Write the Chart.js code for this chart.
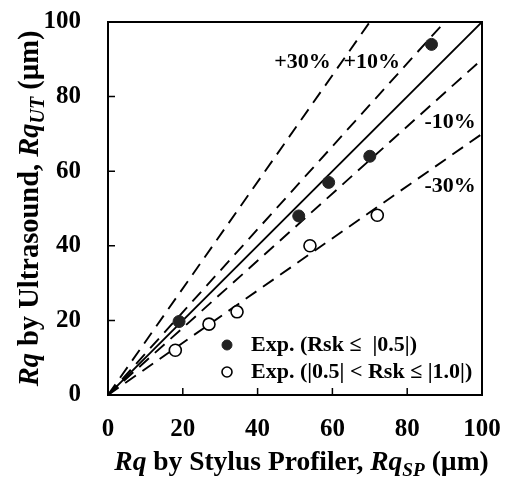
<!DOCTYPE html>
<html>
<head>
<meta charset="utf-8">
<script src="https://cdn.jsdelivr.net/npm/chart.js@4/dist/chart.umd.min.js"></script>
<style>
  body { margin: 0; background: #fff; }
</style>
</head>
<body>
<canvas id="rqChart" width="508" height="477"></canvas>
<script>
const filledX = [19, 51, 59, 70, 86.5];
const filledY = [19.7, 48, 57, 64, 94];
const openX = [18, 27, 34.5, 54, 72];
const openY = [12, 19, 22.3, 40, 48.2];

const legendLabels = ["Exp. (Rsk \u2264  |0.5|)", "Exp. (|0.5| < Rsk \u2264 |1.0|)"];

// +/- error bands, end points in data units
const bandNames = ["+30%", "+10%", "1:1", "-10%", "-30%"];
const bandEndX = [70, 90, 100, 100, 100];
const bandEndY = [100, 100, 100, 90, 70];
// where the band labels sit (data units)
const bandLabelX = [52, 70.5, null, 91.5, 91.5];
const bandLabelY = [89.2, 89.2, null, 73, 56];

const axisTicks = [0, 20, 40, 60, 80, 100];

const serif = "'Liberation Serif', 'Times New Roman', serif";

function zip(xs, ys) {
    return xs.map((x, i) => ({ x: x, y: ys[i] }));
}

const datasets = [
    {
        label: legendLabels[0],
        data: zip(filledX, filledY),
        showLine: false,
        pointRadius: 6,
        pointBackgroundColor: "#222",
        pointBorderColor: "#222",
        pointBorderWidth: 1,
    },
    {
        label: legendLabels[1],
        data: zip(openX, openY),
        showLine: false,
        pointRadius: 6,
        pointBackgroundColor: "#fff",
        pointBorderColor: "#000",
        pointBorderWidth: 1.6,
    },
];
bandNames.forEach(function (name, i) {
    datasets.push({
        label: name,
        data: [{ x: 0, y: 0 }, { x: bandEndX[i], y: bandEndY[i] }],
        showLine: true,
        borderColor: "#000",
        borderWidth: 1.9,
        borderDash: name === "1:1" ? [] : [13, 8],
        pointRadius: 0,
        fill: false,
    });
});

function drawRich(ctx, parts, size, x, y) {
    // parts: [text, italic, sub]
    const fontOf = (p) => (p[1] ? "italic " : "") + "bold " + (p[2] ? size * 0.7 : size) + "px " + serif;
    let total = 0;
    parts.forEach(function (p) { ctx.font = fontOf(p); total += ctx.measureText(p[0]).width; });
    let cx = x - total / 2;
    parts.forEach(function (p) {
        ctx.font = fontOf(p);
        ctx.fillText(p[0], cx, p[2] ? y + size * 0.22 : y);
        cx += ctx.measureText(p[0]).width;
    });
}

const decorations = {
    id: "decorations",
    afterDraw: function (chart) {
        const ctx = chart.ctx;
        const a = chart.chartArea;
        const xs = chart.scales.x, ys = chart.scales.y;
        ctx.save();
        ctx.fillStyle = "#000";
        ctx.strokeStyle = "#000";

        // frame
        ctx.lineWidth = 2;
        ctx.strokeRect(a.left, a.top, a.right - a.left, a.bottom - a.top);

        // inward ticks
        ctx.lineWidth = 1.5;
        ctx.beginPath();
        axisTicks.forEach(function (v) {
            const px = xs.getPixelForValue(v);
            ctx.moveTo(px, a.bottom);
            ctx.lineTo(px, a.bottom - 7);
            const py = ys.getPixelForValue(v);
            ctx.moveTo(a.left, py);
            ctx.lineTo(a.left + 7, py);
        });
        ctx.stroke();

        // band labels
        ctx.font = "bold 22px " + serif;
        ctx.textAlign = "center";
        ctx.textBaseline = "middle";
        bandNames.forEach(function (name, i) {
            if (bandLabelX[i] === null) return;
            ctx.fillText(name, xs.getPixelForValue(bandLabelX[i]), ys.getPixelForValue(bandLabelY[i]));
        });

        // legend inside the plot
        ctx.textAlign = "left";
        ctx.font = "bold 22px " + serif;
        const lx = a.left + 119, ly = a.bottom - 50;
        chart.data.datasets.slice(0, 2).forEach(function (ds, i) {
            const y = ly + i * 27;
            ctx.beginPath();
            ctx.arc(lx, y, 5, 0, Math.PI * 2);
            ctx.fillStyle = ds.pointBackgroundColor;
            ctx.fill();
            ctx.lineWidth = ds.pointBorderWidth;
            ctx.strokeStyle = ds.pointBorderColor;
            ctx.stroke();
            ctx.fillStyle = "#000";
            ctx.fillText(ds.label, lx + 24, y);
        });

        // axis titles
        ctx.textAlign = "left";
        ctx.textBaseline = "alphabetic";
        drawRich(ctx, [["Rq", true], [" by Stylus Profiler, ", false], ["Rq", true], ["SP", true, true], [" (\u00b5m)", false]],
            27.5, 301.5, 470);
        ctx.translate(38, (a.top + a.bottom) / 2);
        ctx.rotate(-Math.PI / 2);
        drawRich(ctx, [["Rq", true], [" by Ultrasound, ", false], ["Rq", true], ["UT", true, true], [" (\u00b5m)", false]],
            28.5, 0, 0);
        ctx.restore();
    },
};

const tickFont = { family: serif, weight: "bold", size: 25 };

new Chart(document.getElementById("rqChart").getContext("2d"), {
    type: "scatter",
    data: { datasets: datasets },
    options: {
        responsive: false,
        animation: false,
        devicePixelRatio: 1,
        layout: { padding: { top: 22, right: 26, left: 0, bottom: 0 } },
        plugins: { legend: { display: false }, tooltip: { enabled: false } },
        scales: {
            x: {
                type: "linear",
                min: 0,
                max: 100,
                ticks: { stepSize: 20, color: "#000", font: tickFont, padding: 20, maxRotation: 0 },
                grid: { drawOnChartArea: false, drawTicks: false },
                border: { display: false },
                afterFit: function (scale) {
                    scale.height = 82;
                    scale.paddingLeft = 0;
                    scale.paddingRight = 0;
                },
            },
            y: {
                type: "linear",
                min: 0,
                max: 100,
                ticks: { stepSize: 20, color: "#000", font: tickFont, padding: 27 },
                grid: { drawOnChartArea: false, drawTicks: false },
                border: { display: false },
                afterFit: function (scale) {
                    scale.width = 108;
                    scale.paddingTop = 0;
                    scale.paddingBottom = 0;
                },
            },
        },
    },
    plugins: [decorations],
});
</script>
</body>
</html>
